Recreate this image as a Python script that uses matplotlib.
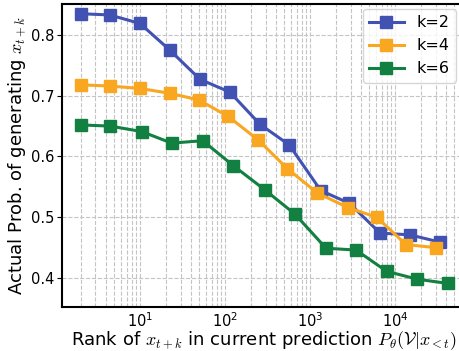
import numpy as np
import matplotlib
matplotlib.use("Agg")
import matplotlib.pyplot as plt

plt.rcParams['font.family'] = ['DejaVu Sans']
plt.rcParams['mathtext.fontset'] = 'cm'

# rank (x) and probability (y) per horizon k
rank_k2 = [2.0, 4.4, 10, 22.5, 50.8, 114, 258, 570, 1337, 2897, 6668, 15000, 33800]
prob_k2 = [0.835, 0.833, 0.819, 0.775, 0.727, 0.706, 0.653, 0.619, 0.544, 0.523, 0.474, 0.471, 0.459]

rank_k4 = [2.0, 4.4, 10, 22.5, 49.4, 109, 247, 541, 1219, 2780, 6095, 13460, 30340]
prob_k4 = [0.718, 0.716, 0.712, 0.704, 0.693, 0.666, 0.627, 0.580, 0.540, 0.516, 0.500, 0.455, 0.450]

rank_k6 = [2.0, 4.5, 10.5, 23.6, 54.7, 125, 295, 667, 1541, 3475, 7980, 18270, 42360]
prob_k6 = [0.652, 0.650, 0.641, 0.622, 0.626, 0.585, 0.545, 0.505, 0.449, 0.446, 0.411, 0.398, 0.391]

series = [
    ("k=2", rank_k2, prob_k2, "#4152B3"),
    ("k=4", rank_k4, prob_k4, "#F9A621"),
    ("k=6", rank_k6, prob_k6, "#128040"),
]

fig = plt.figure(figsize=(4.59, 3.51), dpi=100)
ax = fig.add_axes([0.135, 0.1254, 0.8694, 0.8632])

for label, x, y, c in series:
    ax.plot(x, y, marker='s', color=c, lw=2.2, ms=8.5, label=label)

ax.set_xscale('log')
ax.set_xlim(1.21, 59700)
ax.set_ylim(0.3523, 0.851)
ax.set_yticks([0.4, 0.5, 0.6, 0.7, 0.8])

ax.grid(True, which='both', linestyle='--', color='#c4c4c4', lw=0.8)
ax.tick_params(labelsize=10.5)
ax.tick_params(axis='x', which='both', length=0, pad=3)
ax.tick_params(axis='y', length=3.5, pad=2)
for s in ax.spines.values():
    s.set_linewidth(1.5)

ax.set_xlabel(r"Rank of $x_{t+k}$ in current prediction $P_\theta(\mathcal{V}|x_{<t})$", fontsize=13)
ax.xaxis.set_label_coords(0.505, -0.075)
ax.set_ylabel(r"Actual Prob. of generating $x_{t+k}$", fontsize=13, labelpad=2)

ax.legend(loc='upper right', fontsize=11.5, handlelength=2.2, borderaxespad=0.3)

fig.savefig("out.png", dpi=100)
